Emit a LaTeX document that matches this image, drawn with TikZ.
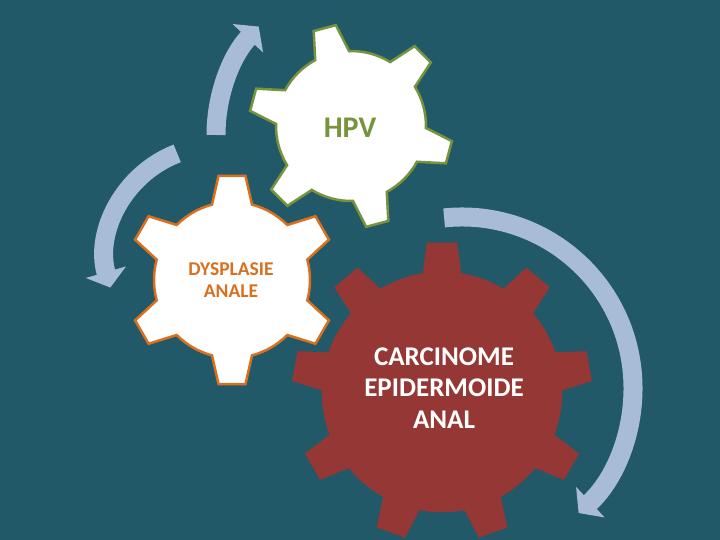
\documentclass[tikz,border=0pt]{standalone}
\usepackage{fontspec}
\setmainfont{Carlito}
\usepackage{tikz}
\usetikzlibrary{arrows.meta}
\usepackage{xcolor}

\definecolor{fondo}{HTML}{215968}
\definecolor{flecha}{HTML}{A8BCD8}
\definecolor{verde}{HTML}{77933C}
\definecolor{naranja}{HTML}{D9701F}
\definecolor{rojo}{HTML}{953735}

% Engranaje: [estilo], centro, dientes, angulo del primer diente,
% radio del cuerpo, radio exterior, ancho de la punta, ancho de la base
\newcommand{\engranaje}[8][]{%
  \pgfmathsetmacro\paso{360/#3}%
  \pgfmathtruncatemacro\ultimo{#3-1}%
  \pgfmathsetmacro\apunta{asin(#7/2/#6)}%
  \pgfmathsetmacro\abase{asin(#8/2/#5)}%
  \draw[#1,shift={(#2)}] ({#4-\abase}:#5)
    \foreach \i [evaluate=\i as \a using #4+\i*\paso] in {0,...,\ultimo}{
      -- ({\a-\apunta}:#6) -- ({\a+\apunta}:#6) -- ({\a+\abase}:#5)
      arc[start angle={\a+\abase}, end angle={\a+\paso-\abase}, radius=#5]
    } -- cycle;
}

\begin{document}
\begin{tikzpicture}[x=1pt,y=1pt,>={Triangle[width=41pt,length=16pt]}]
  % Fondo
  \fill[fondo] (0,0) rectangle (720,540);
  \useasboundingbox (0,0) rectangle (720,540);

  % Centros de las flechas
  \coordinate (f1) at (375,405);
  \coordinate (f2) at (217,283);
  \coordinate (f3) at (462,152);

  % Flechas circulares
  \tikzset{giro/.style={->,flecha,line width=19pt}}
  \draw[giro] ([shift={(180:159)}]f1) arc[start angle=180, end angle=137, radius=159];
  \draw[giro] ([shift={(111:111)}]f2) arc[start angle=111, end angle=196, radius=111];
  \draw[giro] ([shift={(96:171)}]f3) arc[start angle=96, end angle=-47, radius=171];

  % Engranajes
  \engranaje[fill=white,draw=verde,line width=2.5pt]{351,414}{6}{45}{75}{102}{23}{35}
  \engranaje[fill=white,draw=naranja,line width=2.5pt]{232,260}{6}{90}{78}{105}{27}{40}
  \engranaje[fill=rojo,draw=rojo,line width=0.5pt]{442,148}{9}{90}{120}{150}{30}{38}

  % Textos
  \tikzset{texto/.style={align=center,inner sep=0pt}}
  \node[texto,text=verde,font=\fontsize{30}{36}\selectfont\bfseries] (hpv) at (350,412) {HPV};
  \node[texto,text=naranja,font=\fontsize{19.5}{21.5}\selectfont\bfseries] (dysp) at (231,260) {DYSPLASIE\\ANALE};
  \node[texto,text=white,font=\fontsize{27}{31.7}\selectfont\bfseries] (carc) at (444,152) {CARCINOME\\EPIDERMOIDE\\ANAL};
\end{tikzpicture}
\end{document}
